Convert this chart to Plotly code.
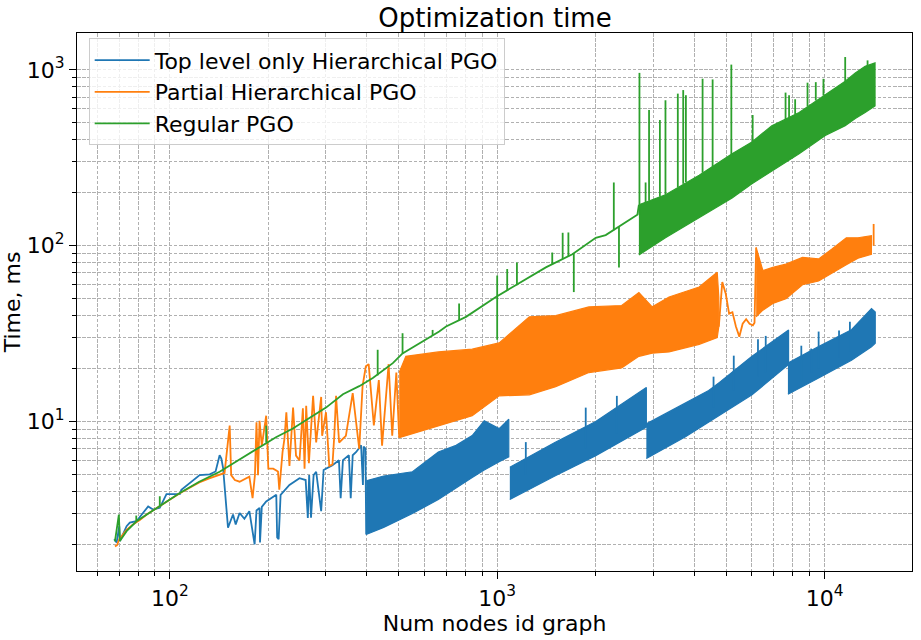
import plotly.graph_objects as go

FONT = "DejaVu Sans"
BLUE, ORANGE, GREEN = "#1f77b4", "#ff7f0e", "#2ca02c"

# ---------------- Top level only Hierarchical PGO (blue) ----------------
blue_line_x = [67.6, 68.8, 70.1, 70.4, 73.8, 75.5, 79.1, 85.9, 88.9, 93.2, 97.7, 107.3, 108.5,
               123.4, 132.4, 138, 142, 143.7, 145.5, 150.6, 156, 159, 163.4, 169, 175, 181.6,
               184, 188, 188.6, 191, 197, 211.5, 212.8, 215, 218, 232, 249, 260, 264, 266.5,
               270, 275, 280, 290, 295, 300.6, 314, 328.6, 332.6, 338, 352.4, 357, 362, 371,
               384, 389, 391, 396, 398]
blue_line_y = [2.14, 2.05, 2.54, 2.09, 2.54, 2.66, 2.71, 3.29, 3.16, 3.23, 3.87, 3.87, 4.09,
               4.96, 5.01, 5.2, 6.43, 6.16, 5.44, 2.49, 2.96, 2.60, 3.02, 2.8, 3.09, 2.0,
               3.12, 3.23, 2.05, 3.27, 3.51, 3.83, 2.19, 2.14, 3.83, 4.36, 4.76, 4.65, 2.83, 4.96,
               2.84, 4.96, 5.18, 3.09, 5.3, 5.41, 5.65, 6.03, 3.67, 6.03, 6.43, 3.67, 6.43, 6.71,
               7.32, 4.36, 7.2, 7.02, 2.28]
blue_band1_x = [398, 450, 551, 661, 749, 839, 913, 1014, 1085]
blue_band1_high = [4.6, 4.9, 5.18, 6.71, 7.32, 8.33, 10.1, 9.12, 10.3]
blue_band1_low = [2.28, 2.5, 3.0, 3.6, 4.2, 4.8, 5.3, 5.9, 6.3]
blue_band2_x = [1093, 1500, 2000, 2360, 2855]
blue_band2_high = [5.5, 7.6, 10.0, 12.3, 15.6]
blue_band2_low = [3.6, 4.9, 6.4, 7.64, 9.28]
blue_band3_x = [2855, 3760, 4426, 4753, 6003, 7762]
blue_band3_high = [9.7, 12.8, 15.0, 16.6, 23.5, 33.2]
blue_band3_low = [6.16, 8.2, 9.9, 10.8, 14.2, 21.1]
blue_band4_x = [7727, 9587, 12085, 13910, 14280]
blue_band4_high = [21.5, 26.7, 33.3, 43.9, 42.0]
blue_band4_low = [14.3, 17.7, 22.3, 26.6, 27.9]
blue_spike_x = [1223, 1864, 2320, 4580, 5280, 6260, 6610, 8490, 9100, 9590, 11070, 11950]
blue_spike_base = [5.0, 7.0, 8.5, 12.0, 15.0, 18.0, 19.0, 17.0, 19.0, 20.0, 23.0, 25.0]
blue_spike_top = [7.64, 12.0, 14.0, 18.0, 23.7, 29.4, 30.7, 27.0, 26.0, 32.5, 33.0, 37.0]

# ---------------- Partial Hierarchical PGO (orange) ----------------
orange_line_x = [68, 69, 70.1, 73.8, 77.2, 81, 85, 89, 93.2, 100, 107, 115, 123, 132, 142, 147,
                 152.4, 154, 158, 163.4, 175, 179, 182, 184, 186, 188, 191, 197, 200, 207, 214,
                 216, 221, 224, 227, 232, 238, 243, 249, 255, 258, 261, 266, 274, 280, 290, 292,
                 300, 307, 314, 318, 322, 329, 345, 362, 379, 388, 397, 405, 420, 435, 445, 466,
                 478, 492, 502]
orange_line_y = [1.95, 1.98, 2.14, 2.42, 2.60, 2.75, 2.96, 3.13, 3.3, 3.59, 3.9, 4.2, 4.5, 4.75,
                 5.0, 5.1, 9.48, 4.96, 4.65, 4.55, 4.86, 3.67, 4.96, 9.9, 4.96, 10.1, 7.3, 10.8,
                 5.4, 5.4, 5.2, 4.1, 6.7, 8.0, 11.3, 5.6, 12.0, 6.4, 6.0, 11.9, 5.4, 12.3, 5.8,
                 14.0, 7.6, 13.8, 8.3, 11.3, 5.6, 5.7, 8.3, 14.0, 7.6, 8.3, 14.5, 7.0, 15.9, 20.6,
                 21.2, 9.5, 17.2, 7.3, 21.2, 8.3, 19.0, 8.1]
orange_band1_x = [502, 526, 661, 839, 1014, 1254, 1509, 1906, 2400, 2709, 2975, 3350, 4139, 4700, 4753]
orange_band1_high = [19.0, 23.5, 24.9, 25.8, 28.0, 39.4, 40.0, 44.9, 45.7, 54.2, 44.9, 51.1, 58.2, 70.6, 51.0]
orange_band1_low = [8.1, 8.33, 9.48, 10.8, 14.0, 14.2, 15.8, 19.0, 20.2, 23.5, 24.5, 24.9, 27.5, 30.0, 34.7]
orange_mid_x = [4753, 4870, 4990, 5110, 5230, 5360, 5490, 5620, 5760, 5900, 6040, 6110, 6180]
orange_mid_y = [34.7, 62.1, 53.3, 41.1, 41.9, 34.7, 30.4, 36.0, 38.2, 36.0, 35.3, 36.5, 97.7]
orange_band2_x = [6180, 6480, 6950, 7620, 8560, 9590, 10510, 11650, 12650, 13900]
orange_band2_high = [97.7, 72.2, 75.3, 78.6, 85.8, 84.1, 95.5, 111, 111, 114]
orange_band2_low = [39.4, 43.0, 47.0, 50.0, 60.0, 63.0, 70.0, 78.0, 85.0, 89.5]
orange_spike_x = [14120]
orange_spike_base = [100]
orange_spike_top = [133]

# ---------------- Regular PGO (green) ----------------
green_line_x = [68, 69.9, 70.4, 73.8, 79.1, 84.9, 93.2, 100, 107.3, 123, 142, 156, 171, 188, 211,
                237, 273, 300, 338, 379, 417, 480, 514, 665, 698, 803, 991, 1408, 1697, 2000,
                2145, 2680, 2709]
green_line_y = [2.08, 2.96, 2.09, 2.38, 2.71, 2.96, 3.29, 3.59, 3.92, 4.55, 5.18, 5.78, 6.43,
                7.16, 8.15, 9.09, 10.8, 12.0, 14.3, 15.9, 17.7, 21.5, 24.4, 32.5, 34.7, 39.4,
                51.1, 75.3, 89.5, 111, 115, 150, 171]
green_band_x = [2709, 3266, 4139, 5218, 6000, 6900, 8360, 10050, 11560, 12410, 13300, 14260]
green_band_high = [171, 195, 252, 334, 389, 482, 573, 727, 863, 962, 1048, 1096]
green_band_low = [88.7, 111, 144, 187, 225, 264, 334, 424, 482, 530, 573, 624]
green_spike_x = [79, 93.2, 197, 431.5, 514, 635, 765, 1000, 1000, 1073, 1149, 1473, 1585, 1650,
                 1714, 2271, 2355, 2720, 2840, 2910, 3140, 3266, 3562, 3700, 3770, 4240, 4550,
                 5190, 6030, 7600, 7790, 8130, 8870, 9400, 9920, 11560, 13530]
green_spike_base = [2.71, 3.29, 7.6, 18.3, 24.4, 31, 37.5, 51.5, 51.5, 55.5, 59.6, 78.5, 84, 87,
                    90.5, 122.5, 128, 150, 175, 180, 190, 195, 215, 225, 230, 260, 280, 330, 390,
                    520, 535, 560, 620, 670, 715, 860, 1050]
green_spike_top = [2.92, 3.76, 9.48, 25.6, 31.8, 33.2, 46.9, 67.7, 29.2, 73.7, 80.4, 91.5, 118.5,
                   119, 54.5, 229, 75.3, 962, 229, 591, 519, 672, 733, 768, 718, 891, 883, 1072,
                   554, 743, 718, 681, 846, 852, 890, 1184, 1133]

# ---------------- axes ----------------
x_major = [100, 1000, 10000]
x_major_text = ["10<sup>2</sup>", "10<sup>3</sup>", "10<sup>4</sup>"]
x_minor = [60, 70, 80, 90] + [m * 100 for m in range(2, 10)] + [m * 1000 for m in range(2, 10)]
y_major = [10, 100, 1000]
y_major_text = ["10<sup>1</sup>", "10<sup>2</sup>", "10<sup>3</sup>"]
y_minor = [m for m in range(2, 10)] + [m * 10 for m in range(2, 10)] + [m * 100 for m in range(2, 10)]

LW = 1.8
fig = go.Figure()


def add_line(x, y, color, name=None, show=False):
    fig.add_trace(go.Scatter(x=x, y=y, mode="lines", line=dict(color=color, width=LW),
                             name=name, showlegend=show, legendgroup=color, hoverinfo="skip"))


def add_band(x, low, high, color):
    fig.add_trace(go.Scatter(x=list(x) + list(x)[::-1], y=list(high) + list(low)[::-1],
                             mode="lines", fill="toself", fillcolor=color,
                             line=dict(color=color, width=1.2), showlegend=False,
                             legendgroup=color, hoverinfo="skip"))


def add_spikes(x, base, top, color):
    xs, ys = [], []
    for xi, b, t in zip(x, base, top):
        xs += [xi, xi, None]
        ys += [b, t, None]
    fig.add_trace(go.Scatter(x=xs, y=ys, mode="lines", line=dict(color=color, width=LW),
                             showlegend=False, legendgroup=color, hoverinfo="skip"))


# blue
add_line(blue_line_x, blue_line_y, BLUE, "Top level only Hierarchical PGO", True)
add_band(blue_band1_x, blue_band1_low, blue_band1_high, BLUE)
add_band(blue_band2_x, blue_band2_low, blue_band2_high, BLUE)
add_band(blue_band3_x, blue_band3_low, blue_band3_high, BLUE)
add_band(blue_band4_x, blue_band4_low, blue_band4_high, BLUE)
add_spikes(blue_spike_x, blue_spike_base, blue_spike_top, BLUE)
# orange
add_line(orange_line_x, orange_line_y, ORANGE, "Partial Hierarchical PGO", True)
add_band(orange_band1_x, orange_band1_low, orange_band1_high, ORANGE)
add_line(orange_mid_x, orange_mid_y, ORANGE)
add_band(orange_band2_x, orange_band2_low, orange_band2_high, ORANGE)
add_spikes(orange_spike_x, orange_spike_base, orange_spike_top, ORANGE)
# green
add_line(green_line_x, green_line_y, GREEN, "Regular PGO", True)
add_band(green_band_x, green_band_low, green_band_high, GREEN)
add_spikes(green_spike_x, green_spike_base, green_spike_top, GREEN)

GRID = "#b0b0b0"
DASH = "3.5px,1.6px"
axis_common = dict(
    type="log", showline=True, linecolor="black", linewidth=1.2, mirror=True,
    ticks="outside", ticklen=7, tickwidth=1.2, tickcolor="black",
    showgrid=True, gridcolor=GRID, gridwidth=0.8, griddash=DASH,
    zeroline=False, tickfont=dict(family=FONT, size=22, color="black"),
)

fig.update_xaxes(**axis_common, range=[1.7166, 4.267], tickmode="array", tickvals=x_major,
                 ticktext=x_major_text,
                 minor=dict(tickvals=x_minor, ticks="outside", ticklen=4, tickcolor="black",
                            tickwidth=1, showgrid=True, gridcolor=GRID, gridwidth=0.8, griddash=DASH),
                 title=dict(text="Num nodes id graph", font=dict(family=FONT, size=22, color="black"),
                            standoff=6))
fig.update_yaxes(**axis_common, range=[0.15, 3.21], tickmode="array", tickvals=y_major,
                 ticktext=y_major_text,
                 minor=dict(tickvals=y_minor, ticks="outside", ticklen=4, tickcolor="black",
                            tickwidth=1, showgrid=True, gridcolor=GRID, gridwidth=0.8, griddash=DASH),
                 title=dict(text="Time, ms", font=dict(family=FONT, size=22, color="black"),
                            standoff=2))

fig.update_layout(
    width=921, height=640,
    margin=dict(l=77, r=8, t=33, b=63),
    paper_bgcolor="white", plot_bgcolor="white",
    font=dict(family=FONT, color="black"),
    title=dict(text="Optimization time", x=0.5375, xanchor="center", y=0.972, yanchor="middle",
               font=dict(family=FONT, size=26, color="black")),
    legend=dict(x=0.014, y=0.99, xanchor="left", yanchor="top", itemwidth=55,
                bgcolor="rgba(255,255,255,0.8)", bordercolor="#cccccc", borderwidth=1,
                font=dict(family=FONT, size=22, color="black"), traceorder="normal"),
    showlegend=True,
)

fig.write_html("out.html", config={"displayModeBar": False},
               post_script="document.body.style.margin='0';")
